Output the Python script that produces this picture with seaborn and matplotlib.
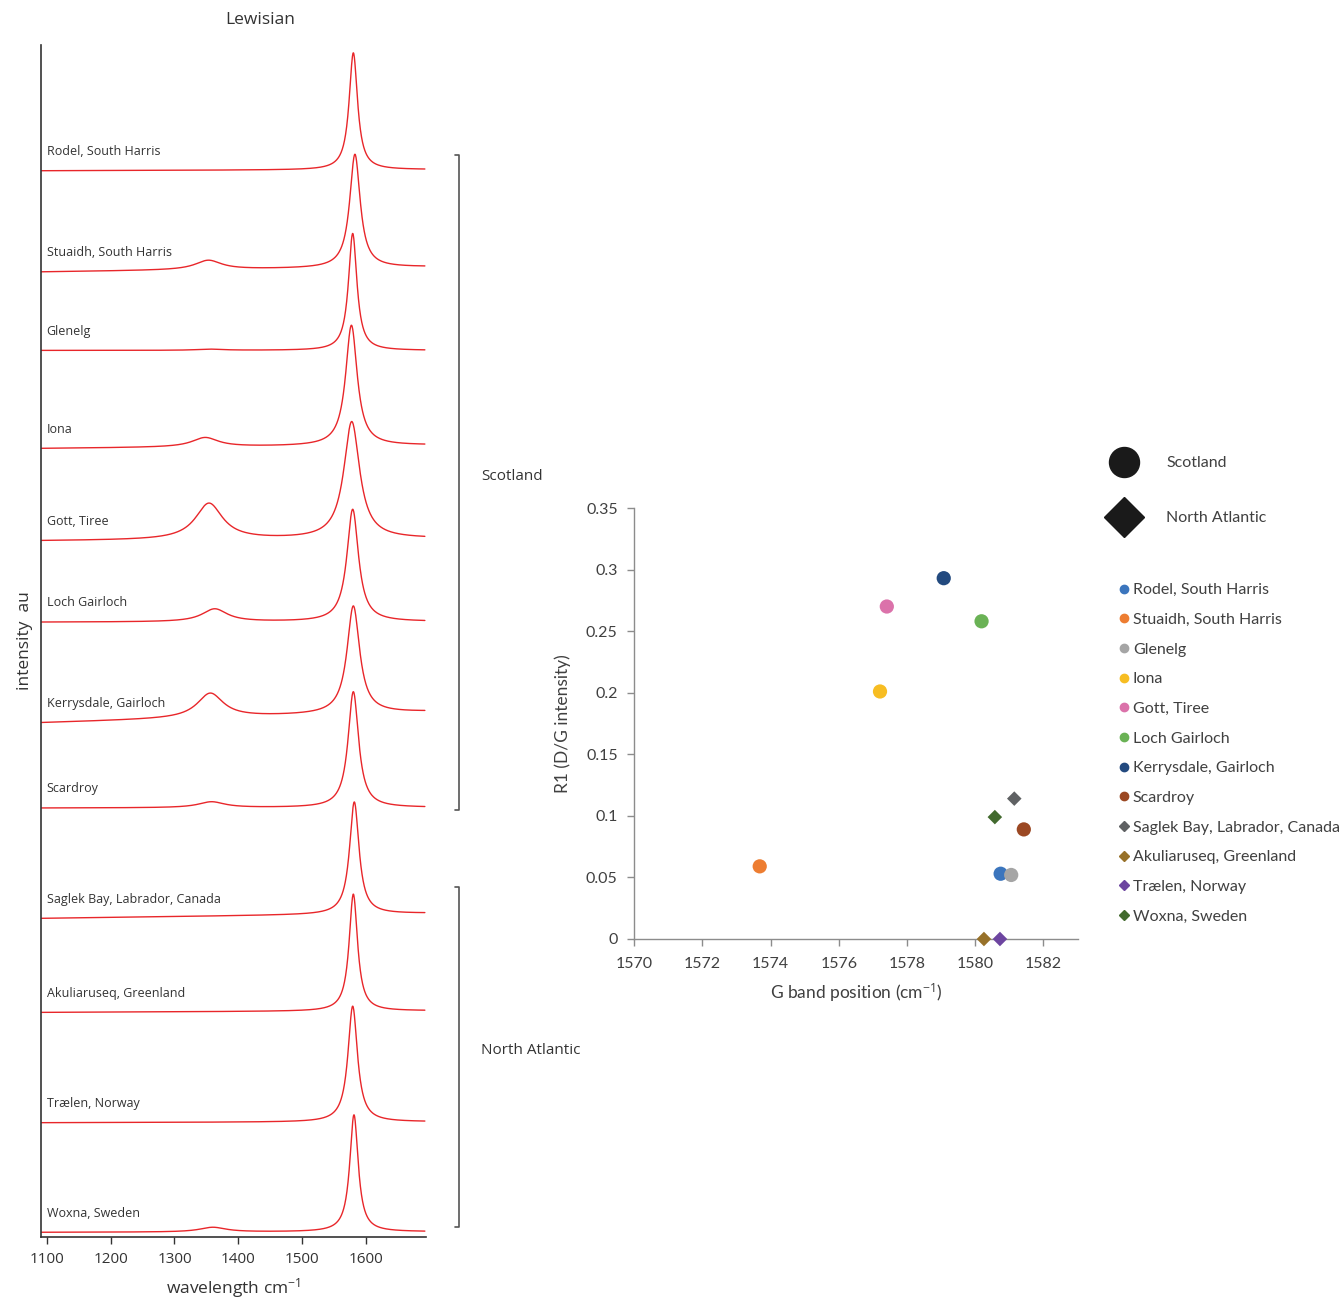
import numpy as np
import pandas as pd
import matplotlib
matplotlib.use('Agg')
import matplotlib.pyplot as plt
from matplotlib.lines import Line2D
import seaborn as sns

# ---- left panel: Raman spectra (peak parameters) ----
sites = ['Rodel, South Harris', 'Stuaidh, South Harris', 'Glenelg', 'Iona',
         'Gott, Tiree', 'Loch Gairloch', 'Kerrysdale, Gairloch', 'Scardroy',
         'Saglek Bay, Labrador, Canada', 'Akuliaruseq, Greenland',
         'Trælen, Norway', 'Woxna, Sweden']
# vertical offset of each trace (au) and baseline rise across the range
offset = [9.115, 8.250, 7.579, 6.741, 5.951, 5.256, 4.396, 3.667, 2.724, 1.920, 0.977, 0.040]
rise = [0.01, 0.043, 0.0, 0.028, 0.02, 0.005, 0.094, 0.005, 0.043, 0.014, 0.008, 0.005]
g_pos = [1580, 1582.5, 1579, 1577, 1577.5, 1579, 1580, 1580, 1581.5, 1580, 1579, 1581]
g_height = [1.0, 0.97, 1.0, 1.03, 1.0, 0.96, 0.92, 0.99, 0.96, 1.0, 0.99, 1.0]
g_fwhm = [16, 20, 16, 22, 30, 22, 24, 20, 18, 16, 18, 16]
d_pos = [1355, 1353, 1355, 1348, 1354, 1363, 1356, 1358, 1355, 1355, 1355, 1360]
d_height = [0.0, 0.08, 0.01, 0.08, 0.31, 0.11, 0.21, 0.05, 0.0, 0.0, 0.0, 0.04]
d_fwhm = [50, 50, 50, 50, 52, 48, 50, 50, 50, 50, 50, 50]

# ---- right panel: R1 vs G band position ----
region = ['Scotland'] * 8 + ['North Atlantic'] * 4
g_band = [1580.75, 1573.68, 1581.06, 1577.21, 1577.41, 1580.19, 1579.08, 1581.43,
          1581.15, 1580.26, 1580.73, 1580.58]
r1 = [0.053, 0.059, 0.052, 0.201, 0.270, 0.258, 0.293, 0.089,
      0.114, 0.0, 0.0, 0.099]
colours = ['#3b75bd', '#ed7d31', '#a5a5a5', '#f7bd22', '#db72aa', '#6ab255',
           '#234a7f', '#9b4823', '#5f6163', '#977129', '#6d45a0', '#426a2e']

W, H = 1341, 1301
sns.set_style('white')
plt.rcParams['font.family'] = ['Open Sans', 'DejaVu Sans']
plt.rcParams['mathtext.fontset'] = 'custom'
plt.rcParams['mathtext.rm'] = 'Open Sans'
plt.rcParams['mathtext.it'] = 'Open Sans'

fig = plt.figure(figsize=(W / 100, H / 100), dpi=100)


def fx(px):
    return px / W


def fy(py):
    return 1 - py / H


# spectra
wn = np.linspace(1091, 1692, 1400)
rows = []
for i, s in enumerate(sites):
    base = offset[i] + rise[i] * (wn - wn[0]) / (wn[-1] - wn[0])
    g = g_height[i] / (1 + ((wn - g_pos[i]) / (g_fwhm[i] / 2)) ** 2)
    d = d_height[i] / (1 + ((wn - d_pos[i]) / (d_fwhm[i] / 2)) ** 2)
    rows.append(pd.DataFrame({'site': s, 'wavenumber': wn, 'intensity': base + g + d}))
spec = pd.concat(rows)

ax1 = fig.add_axes([fx(41), fy(1237), fx(425.7 - 41), (1237 - 45) / H])
sns.lineplot(data=spec, x='wavenumber', y='intensity', units='site', estimator=None,
             color='#e8262a', lw=1.0, ax=ax1, legend=False)
ax1.set_xlim(1091, 1693.3)
ax1.set_ylim(0, 10.19)
ax1.set_yticks([])
ax1.set_xticks([1100, 1200, 1300, 1400, 1500, 1600])
ax1.tick_params(axis='x', direction='out', length=5, width=1, color='#333333',
                labelsize=11, labelcolor='#333333', pad=6, bottom=True)
for side in ['top', 'right']:
    ax1.spines[side].set_visible(False)
for side in ['left', 'bottom']:
    ax1.spines[side].set_color('#333333')
    ax1.spines[side].set_linewidth(1.2)
ax1.set_xlabel('wavelength cm$^{-1}$', fontsize=12.5, color='#333333', labelpad=6)
ax1.set_ylabel('intensity  au', fontsize=12.5, color='#333333', labelpad=6)
for i, s in enumerate(sites):
    ax1.text(1100, offset[i] + 0.135, s, fontsize=9, color='#333333', va='baseline')

fig.text(fx(260), fy(20), 'Lewisian', fontsize=12.5, color='#333333', ha='center', va='center')

# group brackets
for top, bot, name, ty in [(155, 810, 'Scotland', 476), (887, 1227, 'North Atlantic', 1050)]:
    fig.add_artist(Line2D([fx(455), fx(459), fx(459), fx(455)], [fy(top), fy(top), fy(bot), fy(bot)],
                          color='#555555', lw=1.2))
    fig.text(fx(481), fy(ty), name, fontsize=11, color='#333333', va='center')

# scatter
df = pd.DataFrame({'site': sites, 'region': region, 'g_band': g_band, 'r1': r1})
ax2 = fig.add_axes([fx(634.3), fy(939), fx(1078 - 634.3), (939 - 508) / H])
sns.scatterplot(data=df, x='g_band', y='r1', hue='site', palette=dict(zip(sites, colours)),
                style='region', markers={'Scotland': 'o', 'North Atlantic': 'D'},
                size='region', sizes={'Scotland': 105, 'North Atlantic': 55},
                linewidth=0, legend=False, ax=ax2, clip_on=False, zorder=3)
ax2.set_xlim(1570, 1583.02)
ax2.set_ylim(0, 0.35)
ax2.set_xticks(np.arange(1570, 1583, 2))
ax2.set_yticks([0, 0.05, 0.1, 0.15, 0.2, 0.25, 0.3, 0.35])
ax2.set_yticklabels(['0', '0.05', '0.1', '0.15', '0.2', '0.25', '0.3', '0.35'])
for side in ['top', 'right']:
    ax2.spines[side].set_visible(False)
for side in ['left', 'bottom']:
    ax2.spines[side].set_color('#8c8c8c')
    ax2.spines[side].set_linewidth(1.0)
for lab in ax2.get_xticklabels() + ax2.get_yticklabels():
    lab.set_family(['Lato', 'DejaVu Sans'])
ax2.tick_params(direction='out', length=5, width=1, color='#8c8c8c', labelsize=11.5,
                labelcolor='#404040', left=True, bottom=True)
ax2.tick_params(axis='x', pad=8)
ax2.tick_params(axis='y', pad=7)
ax2.set_xlabel('G band position (cm$^{-1}$)', fontsize=12.5, color='#404040',
               family=['Lato', 'DejaVu Sans'], labelpad=7)
ax2.set_ylabel('R1 (D/G intensity)', fontsize=12.5, color='#404040',
               family=['Lato', 'DejaVu Sans'], labelpad=11)

# legends
big = [Line2D([], [], ls='', marker='o', ms=21.6, color='#1a1a1a'),
       Line2D([], [], ls='', marker='D', ms=20.4, color='#1a1a1a')]
leg1 = fig.legend(big, ['Scotland', 'North Atlantic'], loc='upper left',
                  bbox_to_anchor=(fx(1108), fy(456)), frameon=False, handlelength=2.0,
                  handletextpad=1.65, labelspacing=2.55, borderpad=0, borderaxespad=0,
                  prop={'family': ['Lato', 'DejaVu Sans'], 'size': 11.5}, labelcolor='#404040')
small = [Line2D([], [], ls='', marker='o' if r == 'Scotland' else 'D',
                ms=6 if r == 'Scotland' else 4.6, color=c)
         for r, c in zip(region, colours)]
leg2 = fig.legend(small, sites, loc='upper left', bbox_to_anchor=(fx(1120), fy(583)),
                  frameon=False, handlelength=0.55, handletextpad=0.25, labelspacing=0.97,
                  borderpad=0, borderaxespad=0,
                  prop={'family': ['Lato', 'DejaVu Sans'], 'size': 11.5}, labelcolor='#404040')

fig.savefig('out.png', dpi=100)
